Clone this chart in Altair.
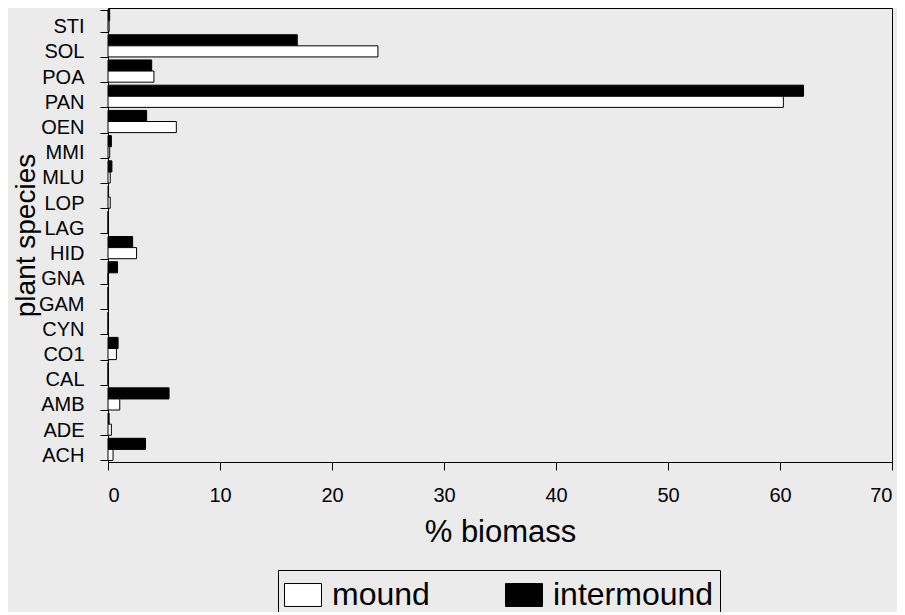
import altair as alt
import pandas as pd

species = ["STI", "SOL", "POA", "PAN", "OEN", "MMI", "MLU", "LOP", "LAG",
           "HID", "GNA", "GAM", "CYN", "CO1", "CAL", "AMB", "ADE", "ACH"]
intermound = [0.15, 16.9, 3.9, 62.1, 3.45, 0.3, 0.35, 0.05, 0.0,
              2.2, 0.85, 0.0, 0.0, 0.9, 0.0, 5.45, 0.1, 3.35]
mound = [0.1, 24.1, 4.1, 60.3, 6.1, 0.15, 0.2, 0.2, 0.0,
         2.55, 0.0, 0.0, 0.0, 0.75, 0.0, 1.05, 0.3, 0.45]
x_ticks = [0, 10, 20, 30, 40, 50, 60, 70]

rows = []
for s, i, m in zip(species, intermound, mound):
    rows.append({"species": s, "type": "intermound", "value": i})
    rows.append({"species": s, "type": "mound", "value": m})
df = pd.DataFrame(rows)

FONT = "Liberation Sans"
rect_path = "M-1,-0.62L1,-0.62L1,0.62L-1,0.62Z"

chart = alt.Chart(df).mark_bar(stroke="black", strokeWidth=1).encode(
    x=alt.X("value:Q",
            scale=alt.Scale(domain=[0, 70], nice=False),
            axis=alt.Axis(values=x_ticks, title="% biomass", grid=False,
                          labelFont=FONT, labelFontSize=20, labelColor="black",
                          labelPadding=15, tickSize=8, tickColor="black",
                          domainColor="black", titleFont=FONT, titleFontSize=31,
                          titleFontWeight="normal", titleColor="black",
                          titleBaseline="top", titleY=55)),
    y=alt.Y("species:N", sort=species,
            scale=alt.Scale(paddingInner=0.12, paddingOuter=0.06),
            axis=alt.Axis(title="plant species", grid=False, tickBand="extent",
                          labelFont=FONT, labelFontSize=20, labelColor="black",
                          labelPadding=16, labelOffset=6, tickSize=8,
                          tickColor="black", domainColor="black",
                          titleFont=FONT, titleFontSize=28, titleFontWeight="normal",
                          titleColor="black", titleAngle=270, titleX=-74, titleY=227,
                          titleBaseline="alphabetic", titleAlign="center")),
    yOffset=alt.YOffset("type:N", sort=["intermound", "mound"],
                        scale=alt.Scale(paddingInner=0, paddingOuter=0)),
    fill=alt.Fill("type:N",
                  scale=alt.Scale(domain=["mound", "intermound"], range=["white", "black"]),
                  legend=alt.Legend(orient="none", legendX=170, legendY=562,
                                    direction="horizontal", title=None,
                                    symbolType=rect_path, symbolSize=1369,
                                    symbolStrokeColor="black", symbolStrokeWidth=1,
                                    symbolOpacity=1,
                                    labelFont=FONT, labelFontSize=32, labelColor="black",
                                    labelOffset=10, labelLimit=400, columnPadding=73,
                                    padding=6, strokeColor="black")),
).properties(
    width=784, height=454,
    padding={"left": 100, "top": 0, "right": 5, "bottom": 150},
    autosize=alt.AutoSizeParams(type="none"),
    background="#ecebec",
).configure_view(stroke="black", strokeWidth=1)

chart.save("out.html", embed_options={"renderer": "svg", "actions": False})
